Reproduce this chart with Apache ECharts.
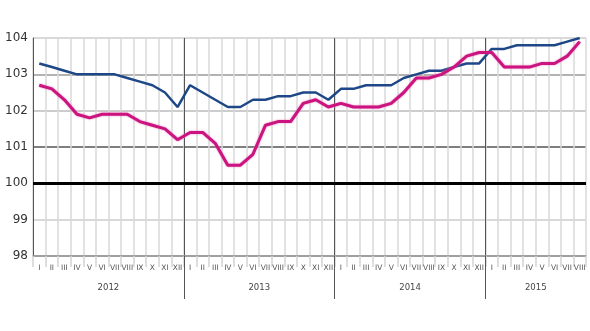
<!DOCTYPE html>
<html>
<head>
<meta charset="utf-8">
<script src="https://cdn.jsdelivr.net/npm/echarts@6/dist/echarts.min.js"></script>
<style>html,body{margin:0;padding:0;background:#fff}#c{width:590px;height:331px}</style>
</head>
<body>
<div id="c"></div>
<script>
var months = ['I','II','III','IV','V','VI','VII','VIII','IX','X','XI','XII',
  'I','II','III','IV','V','VI','VII','VIII','IX','X','XI','XII',
  'I','II','III','IV','V','VI','VII','VIII','IX','X','XI','XII',
  'I','II','III','IV','V','VI','VII','VIII'];
var years = ['2012','2013','2014','2015'];
var yearMonths = [12,12,12,8];
var blueValues = [103.3,103.2,103.1,103.0,103.0,103.0,103.0,102.9,102.8,102.7,102.5,102.1,
  102.7,102.5,102.3,102.1,102.1,102.3,102.3,102.4,102.4,102.5,102.5,102.3,
  102.6,102.6,102.7,102.7,102.7,102.9,103.0,103.1,103.1,103.2,103.3,103.3,
  103.7,103.7,103.8,103.8,103.8,103.8,103.9,104.0];
var magentaValues = [102.7,102.6,102.3,101.9,101.8,101.9,101.9,101.9,101.7,101.6,101.5,101.2,
  101.4,101.4,101.1,100.5,100.5,100.8,101.6,101.7,101.7,102.2,102.3,102.1,
  102.2,102.1,102.1,102.1,102.2,102.5,102.9,102.9,103.0,103.2,103.5,103.6,
  103.6,103.2,103.2,103.2,103.3,103.3,103.5,103.9];
var yMin = 98, yMax = 104, yStep = 1, baseLine = 100;

// half-month slots for the year axis (boundaryGap false): slot k at k/2 months
var slots = [], boundarySlots = {}, acc = 0;
for (var k = 0; k <= months.length * 2; k++) slots.push('');
years.forEach(function(y, i){
  slots[acc * 2 + yearMonths[i]] = y;
  if (acc > 0) boundarySlots[acc * 2] = true;
  acc += yearMonths[i];
});

var chart = echarts.init(document.getElementById('c'), null, {renderer:'canvas'});
chart.setOption({
  animation:false,
  backgroundColor:'#fff',
  grid:{left:33,right:4,top:38,bottom:75,containLabel:false},
  xAxis:[{
    type:'category', data:months, boundaryGap:true, position:'bottom',
    axisLine:{show:true,lineStyle:{color:'#999',width:1.5}},
    axisTick:{show:true,length:11,lineStyle:{color:'#d3d3d3',width:1.5}},
    axisLabel:{interval:0,fontSize:7.5,color:'#555',margin:8,fontFamily:'DejaVu Sans'},
    splitLine:{show:true,interval:0,lineStyle:{color:'#d9d9d9',width:1.5}}
  },{
    type:'category', data:slots, boundaryGap:false, position:'bottom', offset:0,
    axisLine:{show:false},
    axisTick:{show:true,length:43,interval:function(i){return !!boundarySlots[i];},lineStyle:{color:'#555',width:1}},
    axisLabel:{interval:function(i,v){return v !== '';},fontSize:8.5,color:'#444',margin:27,fontFamily:'DejaVu Sans'},
    splitLine:{show:true,interval:function(i){return !!boundarySlots[i];},lineStyle:{color:'#555',width:1}}
  }],
  yAxis:{
    type:'value', min:yMin, max:yMax, interval:yStep,
    axisLine:{show:true,lineStyle:{color:'#555',width:1}},
    axisTick:{show:false},
    axisLabel:{fontSize:12,color:'#333',margin:5,fontFamily:'DejaVu Sans'},
    splitLine:{show:true,lineStyle:{color:['#999','#ccc','#000','#555','#bbb','#999','#ccc'],width:1.5}}
  },
  series:[{
    type:'line', data:blueValues, xAxisIndex:0, symbol:'none',
    lineStyle:{color:'#1d4786',width:2.5}, z:3,
    markLine:{silent:true,symbol:'none',label:{show:false},
      lineStyle:{color:'#000',width:3,type:'solid'},data:[{yAxis:baseLine}]}
  },{
    type:'line', data:magentaValues, xAxisIndex:0, symbol:'none',
    lineStyle:{color:'#cc1480',width:3,shadowColor:'rgba(230,120,180,0.9)',shadowBlur:2}, z:4
  }]
});
</script>
</body>
</html>
